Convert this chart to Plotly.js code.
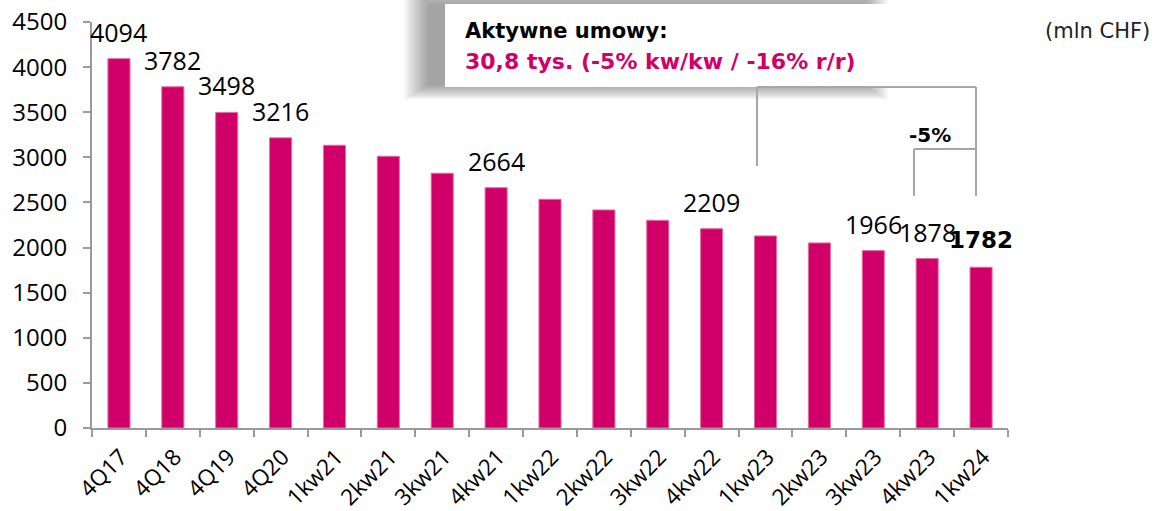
<!DOCTYPE html>
<html>
<head>
<meta charset="utf-8">
<script src="https://cdn.plot.ly/plotly-3.0.1.min.js"></script>
<style>html,body{margin:0;padding:0;background:#fff;}</style>
</head>
<body>
<div id="chart" style="width:1156px;height:511px;"></div>
<script>
// ---- data ----
const categories = ["4Q17","4Q18","4Q19","4Q20","1kw21","2kw21","3kw21","4kw21","1kw22","2kw22","3kw22","4kw22","1kw23","2kw23","3kw23","4kw23","1kw24"];
const values = [4094,3782,3498,3216,3134,3012,2824,2664,2535,2417,2302,2209,2129,2051,1966,1878,1782];
const shownLabels = ["4094","3782","3498","3216","","","","2664","","","","2209","","","1966","1878","1782"];
const boldLabels = ["1782"];
const boxTitle = "Aktywne umowy:";
const boxSubtitle = "30,8 tys. (-5% kw/kw / -16% r/r)";
const unitText = "(mln CHF)";
const bracketText = "-5%";

// ---- geometry helpers (pixel -> paper) ----
const W = 1156, H = 511;
const L = 92, R = 1008, T = 22, B = 428;
const px = x => (x - L) / (R - L);
const py = y => (B - y) / (B - T);

const PINK = "#D10069";
const GRAY = "#a6a6a6";

const trace = {
  type: "bar",
  x: categories,
  y: values,
  marker: {color: PINK, line: {color: "#e56ea3", width: 1}},
  width: 0.41,
  hoverinfo: "x+y"
};

const annotations = [];
values.forEach((v, i) => {
  const t = shownLabels[i];
  if (!t) return;
  const bold = boldLabels.includes(t);
  annotations.push({
    x: categories[i], y: v, xref: "x", yref: "y",
    text: bold ? "<b>" + t + "</b>" : t,
    showarrow: false, xanchor: "center", yanchor: "middle", yshift: 27,
    font: {family: bold ? "DejaVu Sans" : "Open Sans", size: bold ? 23 : 25, color: "#000"}
  });
});

annotations.push({
  x: px(463), y: py(31), xref: "paper", yref: "paper",
  text: "<b>" + boxTitle + "</b>", showarrow: false, xanchor: "left", yanchor: "middle",
  font: {family: "DejaVu Sans", size: 21, color: "#000"}
});
annotations.push({
  x: px(463), y: py(61), xref: "paper", yref: "paper",
  text: "<b>" + boxSubtitle + "</b>", showarrow: false, xanchor: "left", yanchor: "middle",
  font: {family: "DejaVu Sans", size: 22, color: PINK}
});
annotations.push({
  x: px(1152), y: py(31), xref: "paper", yref: "paper",
  text: unitText, showarrow: false, xanchor: "right", yanchor: "middle",
  font: {family: "DejaVu Sans", size: 21, color: "#222"}
});
annotations.push({
  x: px(930), y: py(135), xref: "paper", yref: "paper",
  text: "<b>" + bracketText + "</b>", showarrow: false, xanchor: "center", yanchor: "middle",
  font: {family: "DejaVu Sans", size: 20, color: "#000"}
});

const shapes = [];
// soft blurred shadow behind box (offset left/up)
const sx0 = 430, sx1 = 862, sy0 = 6, sy1 = 84, blur = 26, layers = 13;
for (let k = 0; k < layers; k++) {
  const e = blur - k * (blur / layers);
  shapes.push({
    type: "rect", xref: "paper", yref: "paper", layer: "above",
    x0: px(sx0 - e), x1: px(sx1 + e), y0: py(sy1 + e * 0.6), y1: py(sy0 - e),
    fillcolor: "rgba(0,0,0,0.03)", line: {width: 0}
  });
}
shapes.push({
  type: "rect", xref: "paper", yref: "paper", layer: "above",
  x0: px(445), x1: px(888), y0: py(87), y1: py(4),
  fillcolor: "#ffffff", line: {width: 0}
});
// brackets
const seg = (x0, y0, x1, y1) => shapes.push({
  type: "line", xref: "paper", yref: "paper", layer: "above",
  x0: px(x0), y0: py(y0), x1: px(x1), y1: py(y1),
  line: {color: GRAY, width: 2}
});
seg(757, 87, 757, 166);
seg(757, 87, 976, 87);
seg(976, 87, 976, 196);
seg(914, 149, 976, 149);
seg(914, 149, 914, 196);

const layout = {
  width: W, height: H, autosize: false,
  margin: {l: L, r: W - R, t: T, b: H - B, pad: 0},
  paper_bgcolor: "#fff", plot_bgcolor: "#fff",
  showlegend: false,
  bargap: 0.59,
  xaxis: {
    type: "category", range: [-0.5, 16.5],
    tickangle: -45, tickson: "boundaries",
    ticks: "outside", ticklen: 7, tickwidth: 2, tickcolor: "#9a9a9a",
    showline: true, linecolor: "#9a9a9a", linewidth: 2,
    showgrid: false, zeroline: false,
    ticklabelstandoff: 5, ticklabelshift: 2,
    tickfont: {family: "Open Sans", size: 22.5, color: "#000"}
  },
  yaxis: {
    range: [0, 4500], dtick: 500, tick0: 0,
    ticks: "outside", ticklen: 7, tickwidth: 2, tickcolor: "#9a9a9a",
    showline: true, linecolor: "#9a9a9a", linewidth: 2,
    showgrid: false, zeroline: false,
    ticklabelstandoff: 11,
    tickfont: {family: "Open Sans", size: 24, color: "#000"}
  },
  annotations: annotations,
  shapes: shapes
};

Plotly.newPlot("chart", [trace], layout, {displayModeBar: false, staticPlot: true});
</script>
</body>
</html>
